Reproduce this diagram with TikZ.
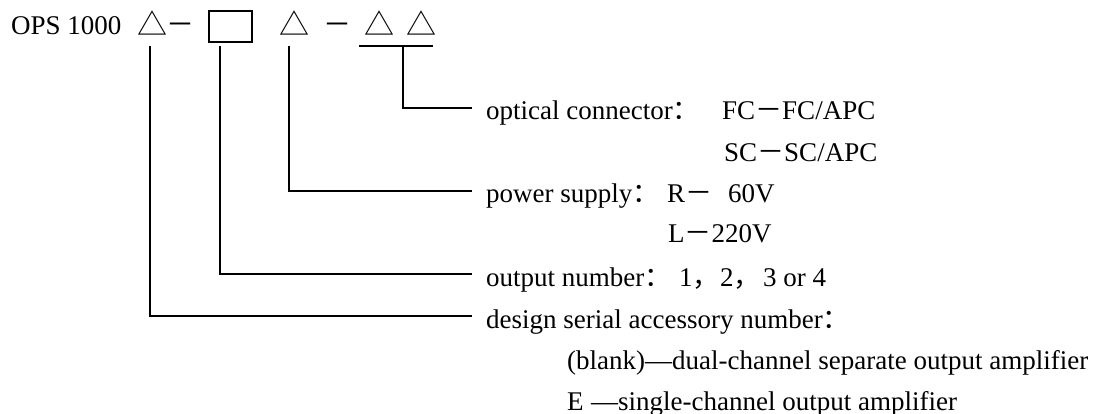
\documentclass[tikz,border=0pt]{standalone}
\usepackage{fontspec}
\setmainfont{Liberation Serif}
\newfontfamily\cjk{Noto Sans CJK SC}
\newcommand{\zw}[1]{{\cjk #1}}
\begin{document}
\begin{tikzpicture}[x=1pt,y=-1pt,
  every node/.style={font=\fontsize{27}{32}\selectfont, inner sep=0pt},
  lab/.style={anchor=west, inner xsep=14pt, inner ysep=0pt, text height=24pt, text depth=0pt},
  txt/.style={anchor=base west},
  sym/.style={anchor=center, font=\cjk\fontsize{30}{36}\selectfont},
  dsh/.style={anchor=center, font=\cjk\fontsize{28}{34}\selectfont},
  conn/.style={line width=1.9pt}]
\useasboundingbox (0,0) rectangle (1111,414);
% top row
\node[txt] (ops) at (11,35) {OPS 1000};
\node[sym] (t1) at (152.5,23) {△};
\node[dsh] (d1) at (180,29) {－};
\node[draw, line width=1.9pt, minimum width=43pt, minimum height=31pt] (box) at (230.5,26.5) {};
\node[sym] (t2) at (294,23) {△};
\node[dsh] (d2) at (337,29) {－};
\node[sym] (t3) at (379,23) {△};
\node[sym] (t4) at (421,23) {△};
% bracket points
\coordinate (u1) at (359,46);
\coordinate (u2) at (433,46);
\coordinate (s4) at (403,46);
\coordinate (s3) at (289,46);
\coordinate (s2) at (220,46);
\coordinate (s1) at (150,46);
% labels
\node[lab] (opt) at (472,108) {optical connector\zw{：}};
\node[txt] (fc) at (722,120) {FC\zw{－}FC/APC};
\node[txt] (sc) at (724,162) {SC\zw{－}SC/APC};
\node[lab] (pow) at (472,191) {power supply\zw{：}};
\node[txt] (rr) at (667,203) {R\zw{－}};
\node[txt] (v60) at (728,203) {60V};
\node[txt] (lv) at (668,243) {L\zw{－}220V};
\node[lab] (out) at (472,274) {output number\zw{：}};
\node[txt] (n1) at (679,286) {1\zw{，}};
\node[txt] (n2) at (720,286) {2\zw{，}};
\node[txt] (n3) at (763,286) {3 or 4};
\node[lab] (des) at (472,316) {design serial accessory number\zw{：}};
\node[txt] (blank) at (567,369) {(blank)—dual-channel separate output amplifier};
\node[txt] (ee) at (567,410) {E};
\node[txt] (single) at (591,410) {—single-channel output amplifier};
% connectors
\draw[conn] (u1) -- (u2);
\draw[conn] (s4) |- (opt.west);
\draw[conn] (s3) |- (pow.west);
\draw[conn] (s2) |- (out.west);
\draw[conn] (s1) |- (des.west);
\end{tikzpicture}
\end{document}
